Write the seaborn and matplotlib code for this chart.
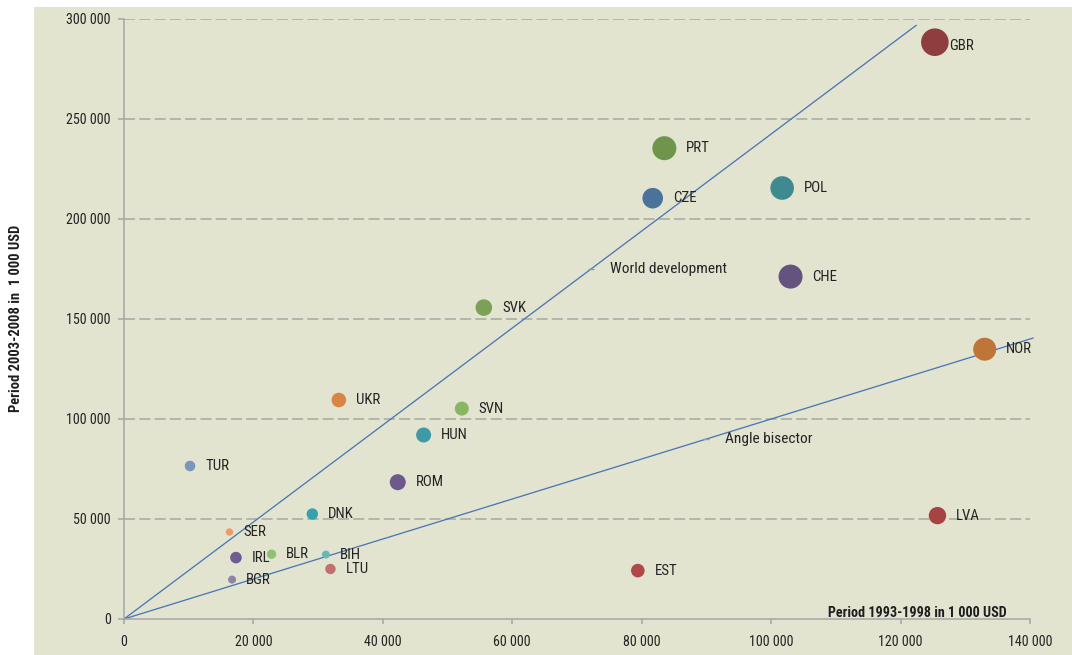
import numpy as np
import pandas as pd
import matplotlib
matplotlib.use("Agg")
import matplotlib.pyplot as plt
from matplotlib import font_manager
from matplotlib.patches import Rectangle
from matplotlib.ticker import FuncFormatter
import seaborn as sns

# ---------------- data (values in 1 000 USD) ----------------
countries = ["GBR", "PRT", "CZE", "POL", "CHE", "NOR", "LVA", "EST", "SVK", "UKR",
             "SVN", "HUN", "ROM", "TUR", "DNK", "SER", "IRL", "BLR", "BIH", "LTU", "BGR"]
period_1993_1998 = [125300, 83500, 81700, 101700, 103000, 133000, 125700, 79400, 55600, 33200,
                    52200, 46300, 42300, 10200, 29100, 16300, 17300, 22800, 31200, 31900, 16700]
period_2003_2008 = [288400, 235400, 210400, 215500, 171200, 134900, 51700, 24200, 155700, 109500,
                    105200, 92000, 68400, 76500, 52500, 43500, 30700, 32400, 32200, 25000, 19700]
# relative bubble size (radius)
bubble = [13.8, 12.0, 10.3, 11.8, 12.0, 11.5, 8.7, 6.8, 8.3, 7.3,
          7.0, 7.5, 8.0, 5.3, 5.7, 3.7, 5.8, 4.7, 4.0, 5.2, 4.0]
colors = ["#8E3E3E", "#6F954C", "#4B7399", "#3F8A91", "#64537E", "#BF7438", "#A64343", "#B04848",
          "#7AA256", "#D98543", "#88B662", "#3E9BA6", "#6C5A8C", "#7897BA", "#35A2AE", "#EE9A6A",
          "#6F5A94", "#90C071", "#6AB6B8", "#C0716E", "#9083A5"]

ref_names = ["World development", "Angle bisector"]
ref_slopes = [2.4248, 1.0]
ref_x_end = [122420, 140500]
ref_label_x = [72200, 89900]

x_ticks = [0, 20000, 40000, 60000, 80000, 100000, 120000, 140000]
y_ticks = [0, 50000, 100000, 150000, 200000, 250000, 300000]
x_title = "Period 1993-1998 in 1 000 USD"
y_title = "Period 2003-2008 in  1 000 USD"

# ---------------- style ----------------
ttf = font_manager.fontManager.ttflist
names = {f.name for f in ttf}
stretch = "normal"
fam = None
for cand in ["Liberation Sans Narrow", "Roboto Condensed", "Open Sans Condensed",
             "Noto Sans Condensed"]:
    if cand in names:
        fam = cand
        break
if fam is None:
    if any(f.name == "DejaVu Sans" and f.stretch == "condensed" for f in ttf):
        fam, stretch = "DejaVu Sans", "condensed"
    elif "Roboto" in names:
        fam = "Roboto"
    else:
        fam = "DejaVu Sans"

sns.set_style("white")
plt.rcParams["font.family"] = [fam, "DejaVu Sans"]
plt.rcParams["font.stretch"] = stretch
plt.rcParams["lines.scale_dashes"] = False

BEIGE = "#E3E4D0"
GRID = "#A8A8A0"
SPINE = "#A5A5A5"
TXT = "#232323"
LINE = "#4A78B5"

W, H = 1072, 655
fig = plt.figure(figsize=(W / 100, H / 100), dpi=100)
renderer = fig.canvas.get_renderer()


def fit_size(s, target_px, weight="normal"):
    """font size so that string s is target_px wide"""
    t = fig.text(0, 0, s, fontsize=10, fontweight=weight)
    w = t.get_window_extent(renderer).width
    t.remove()
    return 10 * target_px / w


fs_tick = fit_size("300 000", 44)
fs_country = fit_size("PRT", 24)
fs_ref = fit_size("World development", 117)
fs_xt = fit_size(x_title, 179, "bold")
fs_yt = fit_size(y_title, 187, "bold")

fig.patch.set_facecolor("white")
fig.patches.append(Rectangle((34 / W, 0), 1 - 34 / W, (H - 7) / H, transform=fig.transFigure,
                             facecolor=BEIGE, edgecolor="none", zorder=-10))

ax = fig.add_axes([124 / W, (H - 619) / H, 906 / W, 600 / H])
ax.patch.set_visible(False)
ax.set_xlim(0, 140000)
ax.set_ylim(0, 300000)

# dashed horizontal grid
for yv in y_ticks[1:]:
    ax.hlines(yv, 0, 140000, colors=GRID, linewidth=1.1, linestyles=(0, (8, 3)), zorder=1)

# reference lines
for name, slope, xe, lx in zip(ref_names, ref_slopes, ref_x_end, ref_label_x):
    ldf = pd.DataFrame({"x": [0, xe], "y": [0, slope * xe]})
    sns.lineplot(data=ldf, x="x", y="y", color=LINE, linewidth=0.95, ax=ax,
                 estimator=None, sort=False, zorder=2, clip_on=False)
    ax.plot([lx], [slope * lx], marker="_", markersize=4, color="#9A9A9A", mew=1, zorder=3)
    ax.annotate(name, (lx, slope * lx), xytext=(19, 0), textcoords="offset pixels",
                ha="left", va="center", fontsize=fs_ref, color=TXT, zorder=4)

# bubbles
df = pd.DataFrame({"country": countries, "x": period_1993_1998, "y": period_2003_2008,
                   "r": bubble})
df["area"] = (2 * df["r"] * 0.72) ** 2
sns.scatterplot(data=df, x="x", y="y", hue="country", palette=dict(zip(countries, colors)),
                size="area", sizes={a: a for a in df["area"]}, legend=False, linewidth=0,
                alpha=1, ax=ax, zorder=5, clip_on=False)

for _, row in df.iterrows():
    if row["country"] == "GBR":
        off = (row["r"] + 0.5, -4)
    else:
        off = (row["r"] + 10, 0)
    ax.annotate(row["country"], (row["x"], row["y"]), xytext=off, textcoords="offset pixels",
                ha="left", va="center", fontsize=fs_country, color=TXT, zorder=6)

# axes styling
for s in ["top", "right"]:
    ax.spines[s].set_visible(False)
for s in ["left", "bottom"]:
    ax.spines[s].set_color(SPINE)
    ax.spines[s].set_linewidth(1.1)
ax.set_xticks(x_ticks)
ax.set_yticks(y_ticks)
fmt = FuncFormatter(lambda v, p: f"{int(v):,}".replace(",", " "))
ax.xaxis.set_major_formatter(fmt)
ax.yaxis.set_major_formatter(fmt)
ax.tick_params(axis="y", direction="out", length=4.5, width=1.1, color=SPINE,
               labelsize=fs_tick, labelcolor=TXT, pad=5.0, left=True)
ax.tick_params(axis="x", direction="out", length=3.6, width=1.1, color=SPINE,
               labelsize=fs_tick, labelcolor=TXT, pad=8.0, bottom=True)
ax.set_xlabel("")
ax.set_ylabel("")

# axis titles
fig.text(1007 / W, 1 - 613 / H, x_title, ha="right", va="center", fontsize=fs_xt,
         fontweight="bold", color="#1E1E1E")
fig.text(16 / W, 1 - 318.5 / H, y_title, ha="center", va="center", rotation=90, fontsize=fs_yt,
         fontweight="bold", color="#1E1E1E")

fig.savefig("out.png", dpi=100)
